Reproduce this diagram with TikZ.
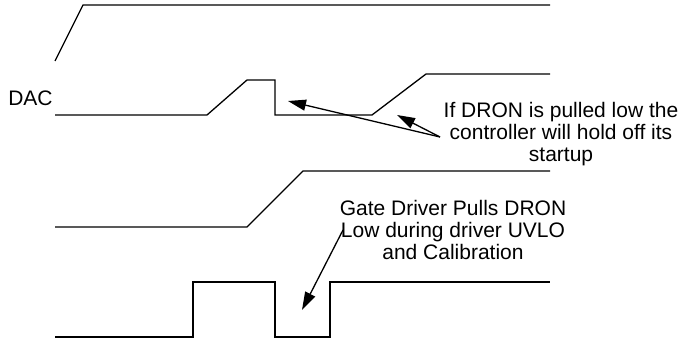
\documentclass[tikz,border=0pt]{standalone}
\usepackage{fontspec}
\setmainfont{Liberation Sans}
\usetikzlibrary{arrows.meta}

\begin{document}
\begin{tikzpicture}[x=0.5pt, y=-0.5pt, >={Triangle[length=9pt, width=5.5pt]},
    wave/.style={line width=0.65pt, line join=miter},
    note/.style={font=\fontsize{10.5}{11}\selectfont, align=center, inner sep=0pt}]
    \useasboundingbox (0,0) rectangle (683,341);
    % waveforms
    \draw[wave] (55,61) -- (83,5) -- (550,5);
    \draw[wave] (55,115) -- (207,115) -- (247,80) -- (275,80) -- (275,115) -- (372,115) -- (426,74) -- (550,74);
    \draw[wave] (55,227) -- (247,227) -- (303,171) -- (550,171);
    \draw[wave] (55,337) -- (193,337) -- (193,282) -- (275,282) -- (275,337) -- (330,337) -- (330,282) -- (550,282);
    % labels
    \node[note, anchor=base east] (dac) at (53,106) {DAC};
    \node[note] (hold) at (561,134.5) {If DRON is pulled low the\\controller will hold off its\\startup};
    \node[note] (uvlo) at (453,230) {Gate Driver Pulls DRON\\Low during driver UVLO\\and Calibration};
    % arrows
    \coordinate (holdtail) at (440,137);
    \coordinate (droptip) at (288,101);
    \coordinate (risetip) at (397,115);
    \coordinate (uvlotail) at (343,230);
    \coordinate (uvlotip) at (302,310);
    \draw[->, wave] (holdtail) -- (droptip);
    \draw[->, wave] (holdtail) -- (risetip);
    \draw[->, wave] (uvlotail) -- (uvlotip);
\end{tikzpicture}
\end{document}
